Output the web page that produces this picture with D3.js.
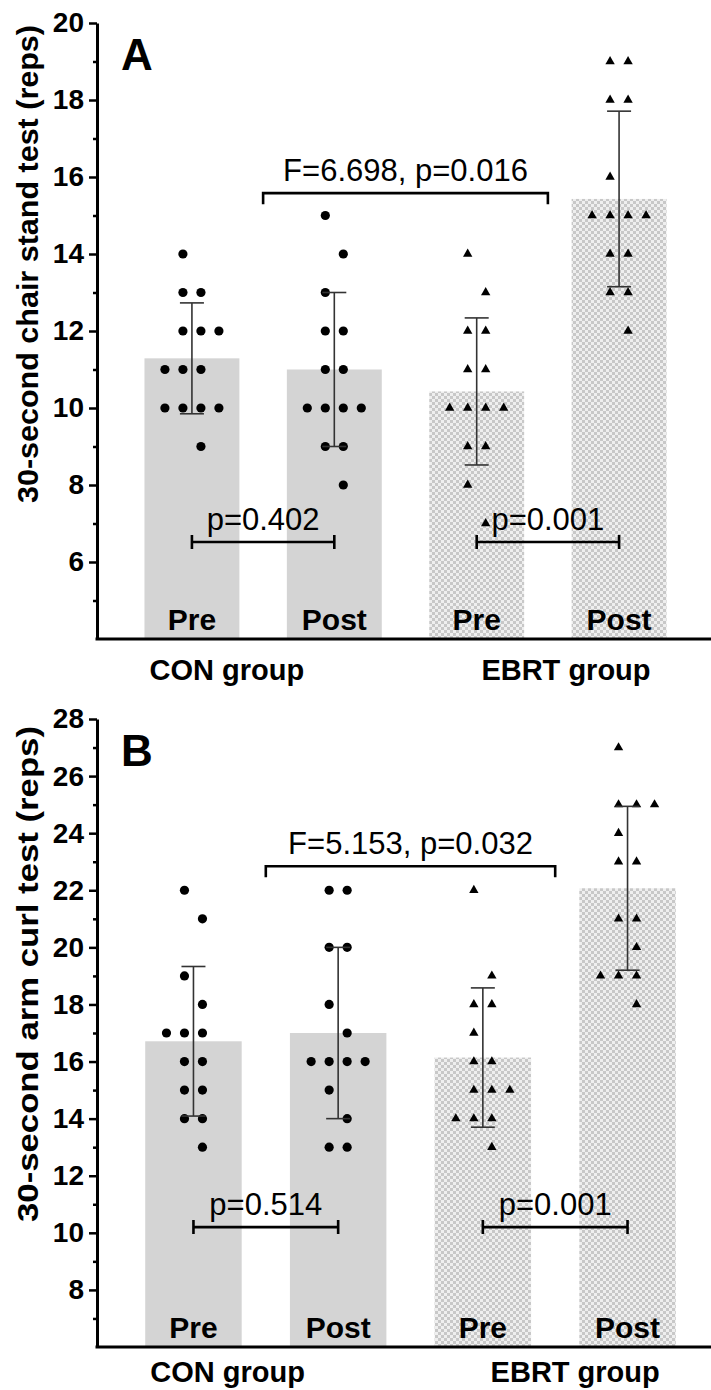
<!DOCTYPE html>
<html>
<head>
<meta charset="utf-8">
<script src="https://cdn.jsdelivr.net/npm/d3@7"></script>
<style>
  body { margin: 0; background: #fff; }
  text { font-family: "Liberation Sans", Arial, sans-serif; }
</style>
</head>
<body>
<script>
// bars: CON Pre, CON Post, EBRT Pre, EBRT Post
var barKeys = ['CON Pre', 'CON Post', 'EBRT Pre', 'EBRT Post'];
var barLabels = ['Pre', 'Post', 'Pre', 'Post'];
var groupLabels = ['CON group', 'EBRT group'];

// panel A - 30-second chair stand test
var chairMeans = [11.29, 11.0, 10.43, 15.43];
var chairSDs = [1.44, 2.0, 1.91, 2.28];
var chairConPre = [14, 13, 13, 12, 12, 12, 11, 11, 11, 10, 10, 10, 10, 9];
var chairConPost = [15, 14, 13, 12, 12, 11, 11, 10, 10, 10, 10, 9, 9, 8];
var chairEbrtPre = [14, 13, 12, 12, 11, 11, 10, 10, 10, 10, 9, 9, 8, 7];
var chairEbrtPost = [19, 19, 18, 18, 16, 15, 15, 15, 15, 14, 14, 13, 13, 12];
var chairTicks = [6, 8, 10, 12, 14, 16, 18, 20];
var chairMinor = [5, 7, 9, 11, 13, 15, 17, 19];
var chairStats = ['F=6.698, p=0.016', 'p=0.402', 'p=0.001'];
var chairStatLevels = [15.58, 6.52, 6.52];

// panel B - 30-second arm curl test
var armMeans = [16.71, 17.0, 16.14, 22.07];
var armSDs = [2.62, 3.0, 2.44, 2.87];
var armConPre = [22, 21, 19, 18, 17, 17, 17, 16, 16, 15, 15, 14, 14, 13];
var armConPost = [22, 22, 20, 20, 18, 17, 16, 16, 16, 16, 15, 14, 13, 13];
var armEbrtPre = [22, 19, 18, 18, 17, 16, 16, 15, 15, 15, 14, 14, 14, 13];
var armEbrtPost = [27, 25, 25, 25, 24, 23, 23, 21, 21, 20, 19, 19, 19, 18];
var armTicks = [8, 10, 12, 14, 16, 18, 20, 22, 24, 26, 28];
var armMinor = [7, 9, 11, 13, 15, 17, 19, 21, 23, 25, 27];
var armStats = ['F=5.153, p=0.032', 'p=0.514', 'p=0.001'];
var armStatLevels = [22.84, 10.2, 10.2];

var W = 711, H = 1390;
var svg = d3.select('body').append('svg').attr('width', W).attr('height', H);

var defs = svg.append('defs');
var pat = defs.append('pattern').attr('id', 'checker').attr('patternUnits', 'userSpaceOnUse')
    .attr('width', 6).attr('height', 6);
pat.append('rect').attr('width', 6).attr('height', 6).attr('fill', '#efefef');
pat.append('rect').attr('width', 3).attr('height', 3).attr('fill', '#c8c8c8');
pat.append('rect').attr('x', 3).attr('y', 3).attr('width', 3).attr('height', 3).attr('fill', '#c8c8c8');

// spread equal values sideways like the prism scatter
function swarm(values) {
    var out = [];
    var flip = -1;
    d3.groups(values, function (v) { return v; }).forEach(function (row) {
        var n = row[1].length;
        var shift = 0;
        if (n % 2 === 1) { shift = 0.5 * flip; flip = -flip; }
        row[1].forEach(function (v, i) {
            out.push({ v: v, slot: i - (n - 1) / 2 + shift });
        });
    });
    return out;
}

function panel(p) {
    var g = svg.append('g');
    var y = d3.scaleLinear().domain(p.domain).range([p.bottom, p.top]);
    var x = d3.scaleBand().domain(barKeys).range([97, p.right]).paddingInner(1 / 3).paddingOuter(1 / 3);
    var bw = x.bandwidth();
    var cx = function (k) { return x(k) + bw / 2; };
    var slot = d3.scaleLinear().domain([-1, 1]).range([-18, 18]);

    // bars
    g.selectAll('rect.bar').data(barKeys).enter().append('rect')
        .attr('x', function (k) { return x(k); })
        .attr('y', function (k, i) { return y(p.means[i]); })
        .attr('width', bw)
        .attr('height', function (k, i) { return p.bottom - y(p.means[i]); })
        .attr('fill', function (k, i) { return i < 2 ? '#d4d4d4' : 'url(#checker)'; });

    // individual points
    p.points.forEach(function (vals, i) {
        var pts = swarm(vals);
        if (i < 2) {
            g.selectAll(null).data(pts).enter().append('circle')
                .attr('cx', function (d) { return cx(barKeys[i]) + slot(d.slot); })
                .attr('cy', function (d) { return y(d.v); })
                .attr('r', 4.6).attr('fill', '#000');
        } else {
            g.selectAll(null).data(pts).enter().append('path')
                .attr('d', d3.symbol(d3.symbolTriangle, 38))
                .attr('transform', function (d) {
                    return 'translate(' + (cx(barKeys[i]) + slot(d.slot)) + ',' + y(d.v) + ')';
                })
                .attr('fill', '#000');
        }
    });

    // mean +- SD
    barKeys.forEach(function (k, i) {
        var lo = y(p.means[i] - p.sds[i]), hi = y(p.means[i] + p.sds[i]);
        var c = cx(k);
        g.append('line').attr('x1', c).attr('x2', c).attr('y1', lo).attr('y2', hi)
            .attr('stroke', '#333').attr('stroke-width', 1.6);
        [lo, hi].forEach(function (yy) {
            g.append('line').attr('x1', c - 12).attr('x2', c + 12).attr('y1', yy).attr('y2', yy)
                .attr('stroke', '#333').attr('stroke-width', 1.6);
        });
    });

    // axes
    var yAxis = g.append('g').attr('transform', 'translate(97,0)')
        .call(d3.axisLeft(y).tickValues(p.ticks).tickSize(8).tickSizeOuter(0).tickPadding(5));
    g.append('g').attr('transform', 'translate(97,0)')
        .call(d3.axisLeft(y).tickValues(p.minor).tickSize(4).tickSizeOuter(0).tickFormat(''))
        .select('.domain').remove();
    g.selectAll('.tick line').attr('stroke', '#000').attr('stroke-width', 2.5);
    yAxis.select('.domain').attr('stroke', '#000').attr('stroke-width', 3);
    yAxis.selectAll('.tick text').attr('font-size', 28).attr('font-weight', 'bold')
        .attr('fill', '#000').style('font-family', '"Liberation Sans", Arial, sans-serif');
    g.append('line').attr('x1', 95.5).attr('x2', W).attr('y1', p.bottom).attr('y2', p.bottom)
        .attr('stroke', '#000').attr('stroke-width', 3);

    // axis title and panel letter
    g.append('text')
        .attr('transform', 'translate(38,' + p.titleMid + ') rotate(-90)')
        .attr('text-anchor', 'middle').attr('font-size', 30).attr('font-weight', 'bold')
        .attr('textLength', p.titleLen).attr('lengthAdjust', 'spacingAndGlyphs')
        .text(p.title);
    g.append('text').attr('x', 121).attr('y', p.top + 47)
        .attr('font-size', 44).attr('font-weight', 'bold').text(p.letter);

    // Pre / Post labels inside bars
    g.selectAll(null).data(barKeys).enter().append('text')
        .attr('x', cx).attr('y', p.bottom - 9)
        .attr('text-anchor', 'middle').attr('font-size', 30).attr('font-weight', 'bold')
        .text(function (k, i) { return barLabels[i]; });

    // group labels
    g.append('text').attr('x', x(barKeys[0]) + 5).attr('y', p.bottom + p.groupDy)
        .attr('font-size', 29).attr('font-weight', 'bold').text(groupLabels[0]);
    g.append('text').attr('x', x(barKeys[3]) + bw - 16).attr('y', p.bottom + p.groupDy)
        .attr('text-anchor', 'end').attr('font-size', 29).attr('font-weight', 'bold').text(groupLabels[1]);

    // interaction bracket
    var gx1 = (cx(barKeys[0]) + cx(barKeys[1])) / 2;
    var gx2 = (cx(barKeys[2]) + cx(barKeys[3])) / 2;
    var fy = y(p.statLevels[0]);
    g.append('path').attr('d', 'M' + gx1 + ',' + (fy + 11) + 'V' + fy + 'H' + gx2 + 'V' + (fy + 11))
        .attr('fill', 'none').attr('stroke', '#000').attr('stroke-width', 2.6);
    g.append('text').attr('x', (gx1 + gx2) / 2).attr('y', fy - 12)
        .attr('text-anchor', 'middle').attr('font-size', 31).text(p.stats[0]);

    // within-group brackets
    [[0, 1], [2, 3]].forEach(function (pair, j) {
        var a = cx(barKeys[pair[0]]), b = cx(barKeys[pair[1]]);
        var yy = y(p.statLevels[j + 1]);
        g.append('path')
            .attr('d', 'M' + a + ',' + (yy - 7) + 'V' + (yy + 7) + 'M' + a + ',' + yy + 'H' + b +
                'M' + b + ',' + (yy - 7) + 'V' + (yy + 7))
            .attr('fill', 'none').attr('stroke', '#000').attr('stroke-width', 2.6);
        g.append('text').attr('x', (a + b) / 2).attr('y', yy - 12)
            .attr('text-anchor', 'middle').attr('font-size', 31).text(p.stats[j + 1]);
    });
}

panel({
    domain: [4, 20], top: 23, bottom: 639, right: 714,
    means: chairMeans, sds: chairSDs,
    points: [chairConPre, chairConPost, chairEbrtPre, chairEbrtPost],
    ticks: chairTicks, minor: chairMinor,
    stats: chairStats, statLevels: chairStatLevels,
    title: '30-second chair stand test (reps)', titleMid: 264, titleLen: 478,
    letter: 'A', groupDy: 41
});

panel({
    domain: [6, 28], top: 719, bottom: 1347, right: 724,
    means: armMeans, sds: armSDs,
    points: [armConPre, armConPost, armEbrtPre, armEbrtPost],
    ticks: armTicks, minor: armMinor,
    stats: armStats, statLevels: armStatLevels,
    title: '30-second arm curl test (reps)', titleMid: 974, titleLen: 496,
    letter: 'B', groupDy: 35
});
</script>
</body>
</html>
